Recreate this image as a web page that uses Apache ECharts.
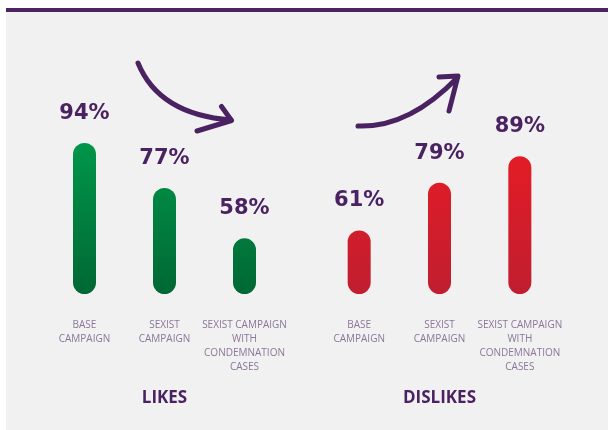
<!DOCTYPE html>
<html>
<head>
<meta charset="utf-8">
<script src="https://cdn.jsdelivr.net/npm/echarts@6/dist/echarts.min.js"></script>
<style>
  html, body { margin: 0; padding: 0; background: #ffffff; }
  #chart { width: 608px; height: 430px; }
</style>
</head>
<body>
<div id="chart"></div>
<script>
// ---- data ----
const likesCategories = ['BASE\nCAMPAIGN', 'SEXIST\nCAMPAIGN', 'SEXIST CAMPAIGN\nWITH\nCONDEMNATION\nCASES'];
const dislikesCategories = ['BASE\nCAMPAIGN', 'SEXIST\nCAMPAIGN', 'SEXIST CAMPAIGN\nWITH\nCONDEMNATION\nCASES'];
const likesValues = [94, 77, 58];
const dislikesValues = [61, 79, 89];
const groupTitles = ['LIKES', 'DISLIKES'];

const purple = '#4a2262';
const labelPurple = '#8b7699';

const chart = echarts.init(document.getElementById('chart'), null, { renderer: 'canvas' });

function grad(top, bottom) {
  return new echarts.graphic.LinearGradient(0, 136, 0, 294, [
    { offset: 0, color: top },
    { offset: 1, color: bottom }
  ], true);
}

const valueLabel = {
  show: true,
  position: 'top',
  distance: 19,
  formatter: '{c}%',
  color: purple,
  fontFamily: 'DejaVu Sans',
  fontWeight: 'bold',
  fontSize: 21
};

function xAxisFor(idx, cats, title) {
  return {
    type: 'category',
    gridIndex: idx,
    data: cats,
    axisLine: { show: false },
    axisTick: { show: false },
    axisLabel: {
      interval: 0,
      margin: 24,
      color: labelPurple,
      fontFamily: 'Open Sans',
      fontSize: 10,
      lineHeight: 14
    },
    name: title,
    nameLocation: 'middle',
    nameGap: 96,
    nameTextStyle: {
      color: purple,
      fontFamily: 'Open Sans',
      fontWeight: 'bold',
      fontSize: 17
    }
  };
}

function yAxisFor(idx) {
  return {
    type: 'value',
    gridIndex: idx,
    min: 37,
    max: 100,
    show: false,
    splitLine: { show: false }
  };
}

const option = {
  backgroundColor: '#f1f1f1',
  animation: false,
  graphic: [
    { type: 'rect', shape: { x: 0, y: 0, width: 608, height: 8 }, style: { fill: '#ffffff' }, z: 0 },
    { type: 'rect', shape: { x: 0, y: 0, width: 6, height: 430 }, style: { fill: '#ffffff' }, z: 0 },
    { type: 'rect', shape: { x: 6, y: 8, width: 602, height: 4 }, style: { fill: '#4b2462' }, z: 0 },
    // arrow 1 (downward)
    { type: 'bezierCurve', shape: { x1: 138, y1: 63, cpx1: 159, cpy1: 114.5, x2: 231, y2: 120 },
      style: { stroke: purple, lineWidth: 5, lineCap: 'round', fill: null } },
    { type: 'polyline', shape: { points: [[221.5, 106.5], [231.5, 120.5], [197, 131]] },
      style: { stroke: purple, lineWidth: 5, lineCap: 'round', lineJoin: 'round', fill: null } },
    // arrow 2 (upward)
    { type: 'bezierCurve', shape: { x1: 358, y1: 126, cpx1: 408.5, cpy1: 128, x2: 457, y2: 78 },
      style: { stroke: purple, lineWidth: 5, lineCap: 'round', fill: null } },
    { type: 'polyline', shape: { points: [[439, 77], [458, 76], [449, 111]] },
      style: { stroke: purple, lineWidth: 5, lineCap: 'round', lineJoin: 'round', fill: null } }
  ],
  grid: [
    { left: 44.5, width: 240, top: 127, bottom: 136 },
    { left: 319, width: 241, top: 127, bottom: 136 }
  ],
  xAxis: [
    xAxisFor(0, likesCategories, groupTitles[0]),
    xAxisFor(1, dislikesCategories, groupTitles[1])
  ],
  yAxis: [yAxisFor(0), yAxisFor(1)],
  series: [
    {
      type: 'bar',
      xAxisIndex: 0,
      yAxisIndex: 0,
      data: likesValues,
      barWidth: 23,
      itemStyle: { color: grad('#00984a', '#006834'), borderRadius: 12 },
      label: valueLabel
    },
    {
      type: 'bar',
      xAxisIndex: 1,
      yAxisIndex: 1,
      data: dislikesValues,
      barWidth: 23,
      itemStyle: { color: grad('#e81c24', '#c01e30'), borderRadius: 12 },
      label: valueLabel
    }
  ]
};

chart.setOption(option);
</script>
</body>
</html>
